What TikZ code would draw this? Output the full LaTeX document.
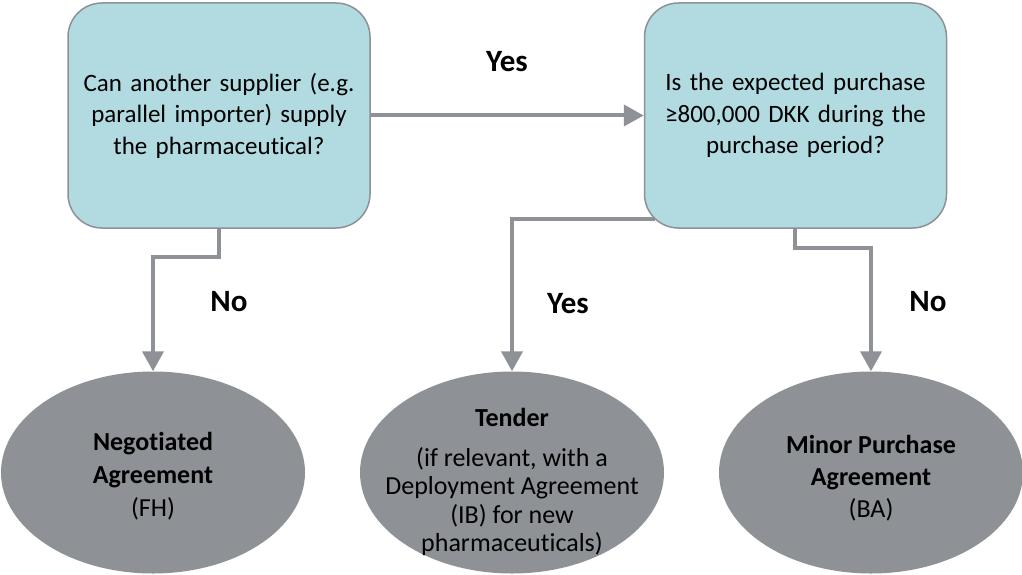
\documentclass[tikz,border=0pt]{standalone}
\usepackage{fontspec}
\setmainfont{Carlito}[Ligatures={NoCommon}]
\usetikzlibrary{shapes.geometric,arrows.meta}
\definecolor{boxfill}{HTML}{B2DBE1}
\definecolor{boxline}{HTML}{8C9196}
\definecolor{ellfill}{HTML}{8E9296}
\definecolor{arr}{HTML}{8E9296}
\begin{document}
\begin{tikzpicture}[x=1pt,y=-1pt,
  qbox/.style={draw=boxline,line width=1.5pt,fill=boxfill,rounded corners=34pt,minimum width=302pt,minimum height=225pt,inner sep=0pt,align=center,font=\fontsize{25}{31.5}\selectfont,text width=298pt},
  endell/.style={ellipse,fill=ellfill,minimum width=304pt,minimum height=202pt,inner sep=0pt},
  etext/.style={align=center,inner sep=0pt},
  conn/.style={draw=arr,line width=4pt,-{Triangle[length=20pt,width=21pt]}},
  lbl/.style={font=\fontsize{31}{36}\selectfont\bfseries}]
\useasboundingbox (0,0) rectangle (1022,575);
\node[qbox] (q1) at (219,115.5) {Can another supplier (e.g.\\ parallel importer) supply\\ the pharmaceutical?};
\node[qbox] (q2) at (795.5,115.5) {Is the expected purchase\\ ≥800,000 DKK during the\\ purchase period?};
\node[endell] (e1) at (153,472.5) {};
\node[endell] (e2) at (512,472.5) {};
\node[endell] (e3) at (871,472.5) {};
\node[etext,font=\fontsize{26}{33}\selectfont] (t1) at ([yshift=-4pt]e1.center) {\textbf{Negotiated}\\ \textbf{Agreement}\\ (FH)};
\node[etext,font=\fontsize{26}{28.5}\selectfont] (t2) at ([yshift=-9.5pt]e2.center) {\textbf{Tender}\\[11pt] (if relevant, with a\\ Deployment Agreement\\ (IB) for new\\ pharmaceuticals)};
\node[etext,font=\fontsize{26}{32}\selectfont] (t3) at ([yshift=-6pt]e3.center) {\textbf{Minor Purchase}\\ \textbf{Agreement}\\ (BA)};
\coordinate (c1) at (219,257);
\coordinate (c2) at (655,219);
\coordinate (c3) at (795,248);
\draw[conn] (q1.east) -- (q2.west);
\draw[conn] (q1.south -| c1) |- (c1) -| (e1.north);
\draw[conn] (c2) -| (e2.north);
\draw[conn] (q2.south -| c3) |- (c3) -| (e3.north);
\node[lbl] (l1) at (507,62) {Yes};
\node[lbl] (l2) at (229,302) {No};
\node[lbl] (l3) at (568,304) {Yes};
\node[lbl] (l4) at (928,302) {No};
\end{tikzpicture}
\end{document}
